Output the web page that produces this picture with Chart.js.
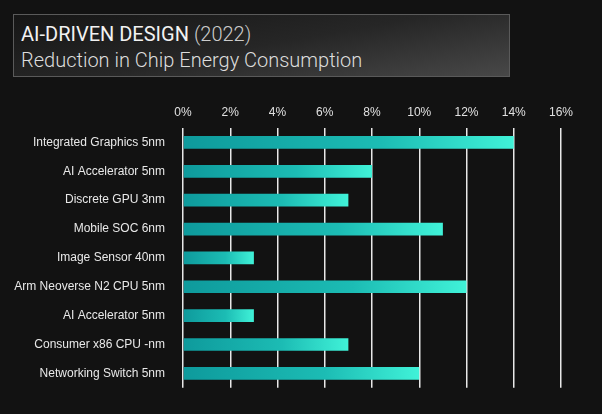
<!DOCTYPE html>
<html>
<head>
<meta charset="utf-8">
<script src="https://cdn.jsdelivr.net/npm/chart.js@4"></script>
<style>
  body { margin: 0; background: #121212; width: 602px; height: 414px; overflow: hidden; font-family: "Liberation Sans", Arial, sans-serif; }
  #title { position: absolute; left: 13px; top: 14px; width: 497px; height: 63px; border: 1px solid #5a5a5a;
    background: linear-gradient(170deg, #161616 0%, #262626 50%, #484848 100%); box-sizing: border-box; padding: 7px 0 0 7px; color: #f2f2f2; }
  #title .l1 { font-family: Roboto, sans-serif; font-size: 20px; line-height: 25px; }
  #title .l1 b { font-weight: 400; }
  #title .l1 span { font-weight: 300; color: #ccc; }
  #title .l2 { font-family: Roboto, sans-serif; font-weight: 300; font-size: 20px; line-height: 27px; color: #ddd; }
  #wrap { position: absolute; left: 0; top: 95px; width: 602px; height: 310px; }
</style>
</head>
<body>
<div id="title"><div class="l1"><b>AI-DRIVEN DESIGN</b> <span>(2022)</span></div><div class="l2">Reduction in Chip Energy Consumption</div></div>
<div id="wrap"><canvas id="chart"></canvas></div>
<script>
// Dados
const categories = ["Integrated Graphics 5nm", "AI Accelerator 5nm", "Discrete GPU 3nm", "Mobile SOC 6nm",
  "Image Sensor 40nm", "Arm Neoverse N2 CPU 5nm", "AI Accelerator 5nm", "Consumer x86 CPU -nm", "Networking Switch 5nm"];
const reduction = [14, 8, 7, 11, 3, 12, 3, 7, 10];
const xTicks = [0, 2, 4, 6, 8, 10, 12, 14, 16];

// gradiente por barra, do teal escuro ao ciano claro
function barGradient(ctx) {
  const chart = ctx.chart;
  if (!chart.chartArea || ctx.raw === undefined) return "#1cbcb4";
  const x0 = chart.scales.x.getPixelForValue(0);
  const x1 = chart.scales.x.getPixelForValue(ctx.raw);
  const g = chart.ctx.createLinearGradient(x0, 0, x1, 0);
  g.addColorStop(0, "#0e9a9c");
  g.addColorStop(0.6, "#1cbcb4");
  g.addColorStop(1, "#40f2d8");
  return g;
}

new Chart(document.getElementById("chart"), {
  type: "bar",
  data: {
    labels: categories,
    datasets: [{
      data: reduction,
      backgroundColor: barGradient,
      barPercentage: 0.44,
      categoryPercentage: 1,
    }],
  },
  options: {
    indexAxis: "y",
    responsive: true,
    maintainAspectRatio: false,
    animation: false,
    layout: { padding: { left: 0, right: 41, top: 0, bottom: 5 } },
    plugins: { legend: { display: false }, tooltip: { enabled: false } },
    scales: {
      x: {
        position: "top",
        min: 0, max: 16,
        afterBuildTicks: (s) => { s.ticks = xTicks.map(v => ({ value: v })); },
        afterFit: (s) => { s.height = 33; },
        ticks: { color: "#e0e0e0", font: { family: "Liberation Sans", size: 12 }, padding: 8,
          callback: (v) => v + "%" },
        grid: { color: "#e8e8e8", lineWidth: 1.5, drawTicks: false },
        border: { display: false },
      },
      y: {
        afterFit: (s) => { s.width = 183; },
        ticks: { color: "#e8e8e8", font: { family: "Liberation Sans", size: 12 }, padding: 10 },
        grid: { display: false },
        border: { display: false },
      },
    },
  },
});
</script>
</body>
</html>
